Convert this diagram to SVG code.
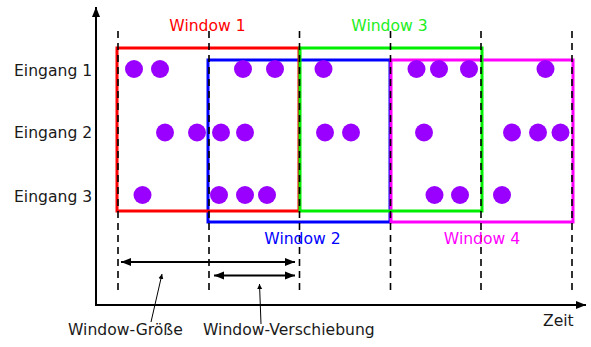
<svg xmlns="http://www.w3.org/2000/svg" width="591" height="347" viewBox="0 0 591 347">
<defs>
<style>
text{font-family:"DejaVu Sans","Verdana",sans-serif;font-size:15.6px;}
.lbl{fill:#1a1a1a;}
.mid{text-anchor:middle;}
.dash{stroke:#000;stroke-width:1.6;stroke-dasharray:7,5;fill:none;}
.box{fill:none;stroke-width:3;}
.dot{fill:#9900ff;}
.axis{stroke:#000;stroke-width:2;fill:none;}
.thin{stroke:#000;stroke-width:1;fill:none;}
.dim{stroke:#000;stroke-width:1.8;fill:none;}
</style>
<marker id="ah" viewBox="0 0 10 10" refX="10" refY="5" markerWidth="10" markerHeight="10" markerUnits="userSpaceOnUse" orient="auto-start-reverse"><path d="M0,1 L10,5 L0,9 z" fill="#000"/></marker>
<marker id="as" viewBox="0 0 10 10" refX="10" refY="5" markerWidth="5" markerHeight="6" markerUnits="userSpaceOnUse" orient="auto"><path d="M0,0 L10,5 L0,10 z" fill="#000"/></marker>
<marker id="ax" viewBox="0 0 10 10" refX="10" refY="5" markerWidth="13" markerHeight="10" markerUnits="userSpaceOnUse" orient="auto"><path d="M0,1 L10,5 L0,9 z" fill="#000"/></marker>
</defs>
<rect width="591" height="347" fill="#fff"/>

<g id="axes">
<line class="axis" x1="96" y1="305" x2="96" y2="7" marker-end="url(#ax)"/>
<line class="axis" x1="95" y1="305" x2="586" y2="305" marker-end="url(#ax)"/>
</g>

<g id="window2"><rect class="box" stroke="#0000ff" x="208" y="60" width="182" height="162"/></g>
<g id="window4"><rect class="box" stroke="#ff00ff" x="391" y="60" width="182" height="162"/></g>
<g id="window1"><rect class="box" stroke="#ff0000" x="117" y="48" width="182" height="163"/></g>
<g id="window3"><rect class="box" stroke="#00ee00" x="300" y="48" width="182" height="163"/></g>

<g id="ticks">
<line class="dash" x1="118" y1="31" x2="118" y2="290"/>
<line class="dash" x1="209" y1="31" x2="209" y2="290"/>
<line class="dash" x1="299.5" y1="31" x2="299.5" y2="290"/>
<line class="dash" x1="390.5" y1="31" x2="390.5" y2="290"/>
<line class="dash" x1="481" y1="31" x2="481" y2="290"/>
<line class="dash" x1="572" y1="31" x2="572" y2="290"/>
</g>

<g id="events">
<circle class="dot" cx="134" cy="69" r="9"/>
<circle class="dot" cx="160" cy="69" r="9"/>
<circle class="dot" cx="243" cy="69" r="9"/>
<circle class="dot" cx="275" cy="69" r="9"/>
<circle class="dot" cx="323.5" cy="69" r="9"/>
<circle class="dot" cx="416.5" cy="69" r="9"/>
<circle class="dot" cx="439" cy="69" r="9"/>
<circle class="dot" cx="469" cy="69" r="9"/>
<circle class="dot" cx="545.5" cy="69" r="9"/>

<circle class="dot" cx="165" cy="132.5" r="9"/>
<circle class="dot" cx="197" cy="132.5" r="9"/>
<circle class="dot" cx="221" cy="132.5" r="9"/>
<circle class="dot" cx="245" cy="132.5" r="9"/>
<circle class="dot" cx="325" cy="132.5" r="9"/>
<circle class="dot" cx="351" cy="132.5" r="9"/>
<circle class="dot" cx="424" cy="132.5" r="9"/>
<circle class="dot" cx="512" cy="132.5" r="9"/>
<circle class="dot" cx="538" cy="132.5" r="9"/>
<circle class="dot" cx="560.5" cy="132.5" r="9"/>

<circle class="dot" cx="142.5" cy="195" r="9"/>
<circle class="dot" cx="219" cy="195" r="9"/>
<circle class="dot" cx="245" cy="195" r="9"/>
<circle class="dot" cx="267" cy="195" r="9"/>
<circle class="dot" cx="434.5" cy="195" r="9"/>
<circle class="dot" cx="460" cy="195" r="9"/>
<circle class="dot" cx="502" cy="195" r="9"/>
</g>

<g id="connectors">
<line class="dim" x1="121" y1="262" x2="295" y2="262" marker-start="url(#ah)" marker-end="url(#ah)"/>
<line class="dim" x1="214" y1="275.5" x2="295" y2="275.5" marker-start="url(#ah)" marker-end="url(#ah)"/>
<line class="thin" x1="151" y1="322" x2="162" y2="274" marker-end="url(#as)"/>
<line class="thin" x1="261" y1="324" x2="259.5" y2="284" marker-end="url(#as)"/>
</g>

<g id="labels">
<text class="lbl" x="14" y="76">Eingang 1</text>
<text class="lbl" x="14" y="138">Eingang 2</text>
<text class="lbl" x="14" y="201.5">Eingang 3</text>
<text class="mid" x="207.5" y="31" fill="#ff0000">Window 1</text>
<text class="mid" x="389.5" y="31" fill="#22ee22">Window 3</text>
<text class="mid" x="302.5" y="244" fill="#0000ff">Window 2</text>
<text class="mid" x="482" y="244" fill="#ff00ff">Window 4</text>
<text class="lbl" x="68" y="335">Window-Größe</text>
<text class="lbl" x="203" y="335">Window-Verschiebung</text>
<text class="lbl" x="543" y="326">Zeit</text>
</g>
</svg>
